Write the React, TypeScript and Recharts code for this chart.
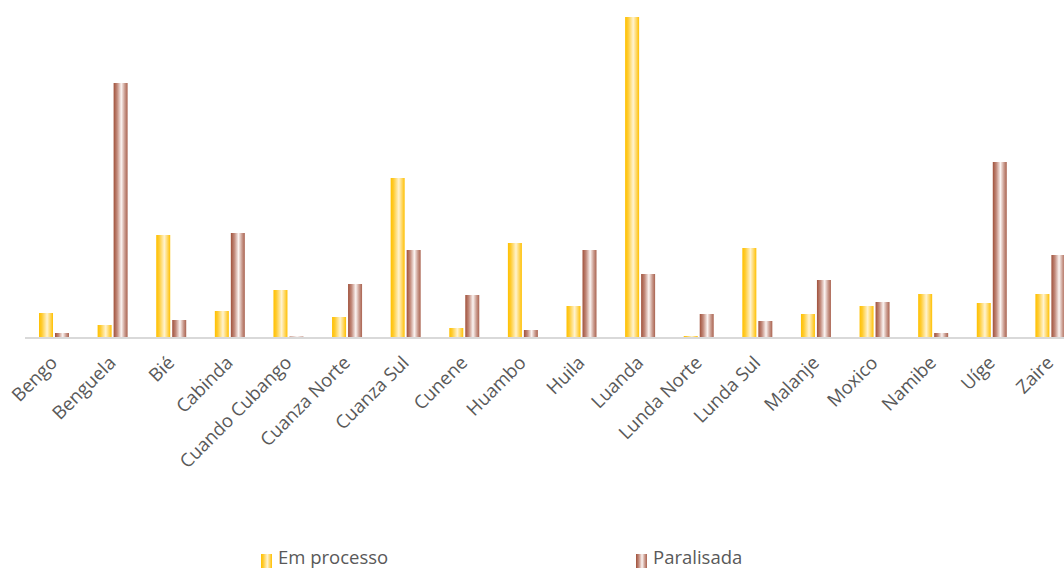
import React from 'react';
import { BarChart, Bar, XAxis, YAxis, Legend } from 'recharts';

const categories = [
  'Bengo', 'Benguela', 'Bié', 'Cabinda', 'Cuando Cubango', 'Cuanza Norte', 'Cuanza Sul',
  'Cunene', 'Huambo', 'Huila', 'Luanda', 'Lunda Norte', 'Lunda Sul', 'Malanje', 'Moxico',
  'Namibe', 'Uíge', 'Zaire',
];
const emProcesso = [25, 13, 103, 27, 48, 21, 160, 10, 95, 32, 321, 2, 90, 24, 32, 44, 35, 44];
const paralisada = [5, 255, 18, 105, 1.5, 54, 88, 43, 8, 88, 64, 24, 17, 58, 36, 5, 176, 83];
const seriesNames = ['Em processo', 'Paralisada'];

const data = categories.map((c, i) => ({ name: c, emProcesso: emProcesso[i], paralisada: paralisada[i] }));

const FONT = "'Open Sans', 'Noto Sans', sans-serif";

const GradDefs = () => (
  <>
    <linearGradient id="gYellow" x1="0" y1="0" x2="1" y2="0">
      <stop offset="0" stopColor="#FFC000" />
      <stop offset="0.2" stopColor="#FFCB2E" />
      <stop offset="0.58" stopColor="#FFF3D0" />
      <stop offset="0.85" stopColor="#FFD24E" />
      <stop offset="1" stopColor="#FFC000" />
    </linearGradient>
    <linearGradient id="gBrown" x1="0" y1="0" x2="1" y2="0">
      <stop offset="0" stopColor="#A0513B" />
      <stop offset="0.25" stopColor="#C28A7B" />
      <stop offset="0.55" stopColor="#FBF4F2" />
      <stop offset="0.8" stopColor="#C99A8D" />
      <stop offset="1" stopColor="#AA6350" />
    </linearGradient>
  </>
);

const Tick = (props: any) => {
  const { x, y, payload } = props;
  return (
    <g transform={`translate(${x + 4},${y + 26})`}>
      <text textAnchor="end" transform="rotate(-45)" fill="#595959" fontSize={18.5} fontFamily={FONT}>
        {payload.value}
      </text>
    </g>
  );
};

const LegendContent = () => (
  <svg width={1064} height={29} style={{ display: 'block' }}>
    <defs>
      <GradDefs />
    </defs>
    <rect x={261} y={14} width={11} height={14} fill="url(#gYellow)" />
    <text x={278} y={24} fill="#595959" fontSize={18.5} fontFamily={FONT}>{seriesNames[0]}</text>
    <rect x={636} y={14} width={11} height={14} fill="url(#gBrown)" />
    <text x={653} y={24} fill="#595959" fontSize={18.5} fontFamily={FONT}>{seriesNames[1]}</text>
  </svg>
);

export default function App() {
  return (
    <div style={{ position: 'absolute', left: 0, top: 0, width: 1064, height: 569, overflow: 'hidden', background: '#fff' }}>
      <BarChart
        width={1080}
        height={569}
        data={data}
        margin={{ top: 10, right: 0, left: 25, bottom: 0 }}
        barSize={14}
        barGap={2}
      >
        <defs>
          <GradDefs />
        </defs>
        <YAxis hide domain={[0, 328]} />
        <Bar dataKey="emProcesso" name={seriesNames[0]} fill="url(#gYellow)" isAnimationActive={false} />
        <Bar dataKey="paralisada" name={seriesNames[1]} fill="url(#gBrown)" isAnimationActive={false} />
        <XAxis
          dataKey="name"
          interval={0}
          height={202}
          tickLine={false}
          tickSize={0}
          tickMargin={0}
          axisLine={{ stroke: '#D9D9D9', strokeWidth: 2 }}
          tick={<Tick />}
        />
        <Legend
          verticalAlign="bottom"
          height={29}
          content={<LegendContent />}
          wrapperStyle={{ left: 0, width: 1064, bottom: 0 }}
        />
      </BarChart>
    </div>
  );
}
